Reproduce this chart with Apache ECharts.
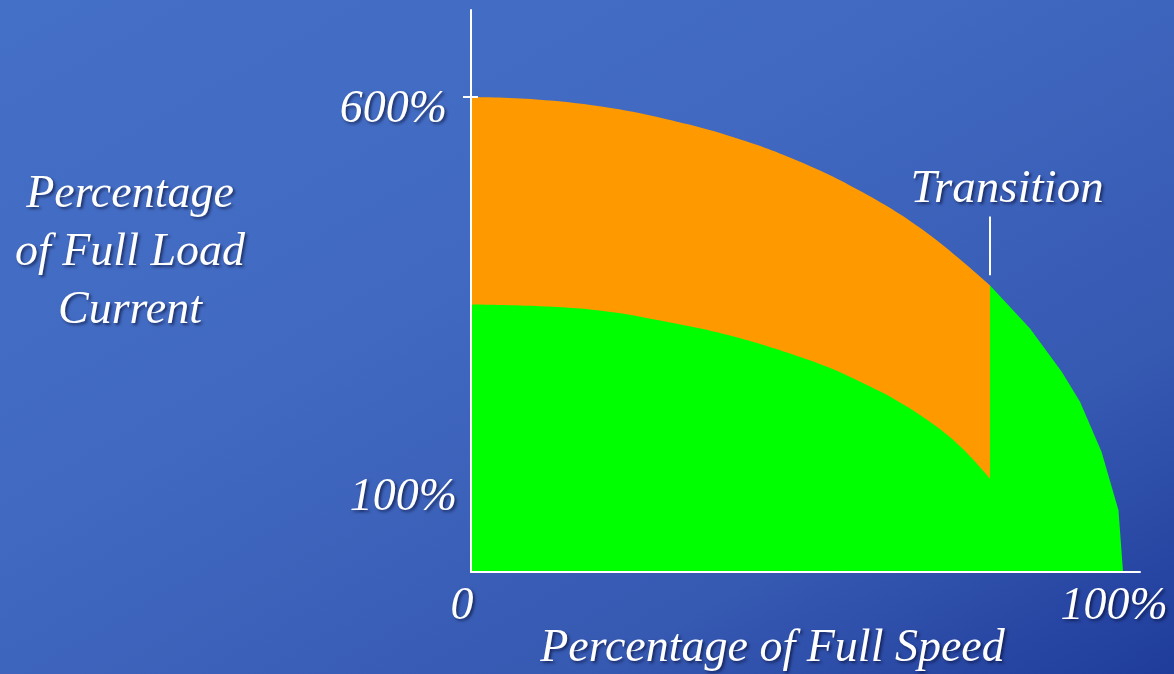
<!DOCTYPE html>
<html>
<head>
<meta charset="utf-8">
<script src="https://cdn.jsdelivr.net/npm/echarts@6/dist/echarts.min.js"></script>
<style>
  html, body { margin: 0; padding: 0; }
  #chart {
    width: 1174px; height: 674px;
    background: linear-gradient(to bottom right, #4570c7 0%, #4169c1 40%, #3659b2 75%, #1f3c9b 100%);
  }
</style>
</head>
<body>
<div id="chart"></div>
<script>
// Axis ticks and their labels
const speedTicks = [0, 100];
const speedTickLabels = ['0', '100%'];
const currentTicks = [100, 600];
const currentTickLabels = ['100%', '600%'];
const currentMarkTicks = [600];

// Upper boundary of the orange band (starting current, % of full load vs % of full speed)
const orangeSpeed = [0, 10, 20, 30, 40, 50, 60, 70, 79.6];
const orangeCurrent = [600, 597, 588, 572, 550, 520, 480, 428, 362];

// Green region below the orange band, up to the transition
const greenInnerSpeed = [0, 10, 20, 30, 40, 50, 55, 60, 65, 70, 75, 79.6];
const greenInnerCurrent = [338, 336, 330, 316, 298, 273, 258, 239, 218, 192, 159, 118];

// Green region after the transition
const greenOuterSpeed = [79.6, 85.7, 90.6, 93.4, 96.7, 99.3, 100];
const greenOuterCurrent = [362, 308, 253, 215, 152, 78, 0];

// Transition marker
const transitionSpeed = 79.6;
const transitionMarker = [375, 449];

const yTitle = 'Percentage\nof Full Load\nCurrent';
const xTitle = 'Percentage of Full Speed';

const zip = (xs, ys) => xs.map((x, i) => [x, ys[i]]);

const FONT = "'Liberation Serif', 'Times New Roman', serif";
const shadow = {
  textShadowColor: 'rgba(0, 0, 30, 0.55)',
  textShadowBlur: 3,
  textShadowOffsetX: 2,
  textShadowOffsetY: 2
};
const textBase = {
  color: '#ffffff',
  fontFamily: FONT,
  fontStyle: 'italic',
  fontSize: 46,
  ...shadow
};

const gridLeft = 471, gridRight = 34;
const gridWidth = 1174 - gridLeft - gridRight;

const chart = echarts.init(document.getElementById('chart'), null, { renderer: 'canvas' });

chart.setOption({
  animation: false,
  backgroundColor: 'transparent',
  grid: { left: gridLeft, right: gridRight, top: 10, bottom: 102, outerBoundsMode: 'none', containLabel: false },
  graphic: [
    {
      type: 'text',
      x: 130,
      y: 253,
      silent: true,
      style: {
        text: yTitle,
        fill: '#ffffff',
        fontFamily: FONT,
        fontStyle: 'italic',
        fontSize: 46,
        lineHeight: 58,
        align: 'center',
        verticalAlign: 'middle',
        ...shadow
      }
    }
  ],
  xAxis: {
    type: 'value',
    min: 0,
    max: 102.6,
    z: 10,
    axisLine: { show: true, lineStyle: { color: '#ffffff', width: 2 } },
    axisTick: { show: false },
    splitLine: { show: false },
    axisLabel: {
      customValues: speedTicks,
      ...textBase,
      lineHeight: 46,
      margin: 12,
      padding: [0, 18, 0, 0],
      formatter: v => speedTickLabels[speedTicks.indexOf(v)] ?? ''
    },
    name: xTitle,
    nameLocation: 'middle',
    nameGap: 54,
    nameMoveOverlap: false,
    nameTextStyle: { ...textBase, lineHeight: 46, padding: [0, 66, 0, 0] }
  },
  yAxis: [
    {
      type: 'value',
      min: 0,
      max: 710,
      z: 10,
      axisLine: { show: true, lineStyle: { color: '#ffffff', width: 2 } },
      axisTick: { show: true, customValues: currentMarkTicks, length: 8, lineStyle: { color: '#ffffff', width: 2 } },
      splitLine: { show: false },
      axisLabel: {
        customValues: currentTicks,
        margin: 14,
        formatter: v => {
          const t = currentTickLabels[currentTicks.indexOf(v)] ?? '';
          return v === 600 ? '{hi|' + t + '}' : '{lo|' + t + '}';
        },
        rich: {
          hi: { ...textBase, lineHeight: 46, padding: [26, 10, 0, 0] },
          lo: { ...textBase, lineHeight: 46, padding: [10, 0, 0, 0] }
        }
      }
    },
    {
      // inner half of the 600% tick, placed on the same vertical axis line
      type: 'value',
      min: 0,
      max: 710,
      position: 'right',
      offset: -gridWidth,
      z: 10,
      axisLine: { show: false },
      axisTick: { show: true, customValues: currentMarkTicks, length: 7, lineStyle: { color: '#ffffff', width: 2 } },
      splitLine: { show: false },
      axisLabel: { show: false }
    }
  ],
  series: [
    {
      name: 'Orange band',
      type: 'line',
      data: zip(orangeSpeed, orangeCurrent),
      smooth: 0.4,
      showSymbol: false,
      lineStyle: { width: 0 },
      areaStyle: { color: '#ff9900', opacity: 1 },
      z: 2
    },
    {
      name: 'Green inner',
      type: 'line',
      data: zip(greenInnerSpeed, greenInnerCurrent),
      smooth: 0.4,
      showSymbol: false,
      lineStyle: { width: 0 },
      areaStyle: { color: '#00ff00', opacity: 1 },
      z: 3
    },
    {
      name: 'Green outer',
      type: 'line',
      data: zip(greenOuterSpeed, greenOuterCurrent),
      smooth: false,
      showSymbol: false,
      lineStyle: { width: 0 },
      areaStyle: { color: '#00ff00', opacity: 1 },
      z: 3,
      markLine: {
        silent: true,
        symbol: 'none',
        lineStyle: { color: '#ffffff', width: 2, type: 'solid' },
        label: {
          show: true,
          position: 'end',
          distance: 4,
          formatter: 'Transition',
          ...textBase,
          fontSize: 47,
          lineHeight: 46,
          padding: [0, 0, 0, 34]
        },
        data: [[
          { coord: [transitionSpeed, transitionMarker[0]] },
          { coord: [transitionSpeed, transitionMarker[1]] }
        ]]
      }
    }
  ]
});
</script>
</body>
</html>
